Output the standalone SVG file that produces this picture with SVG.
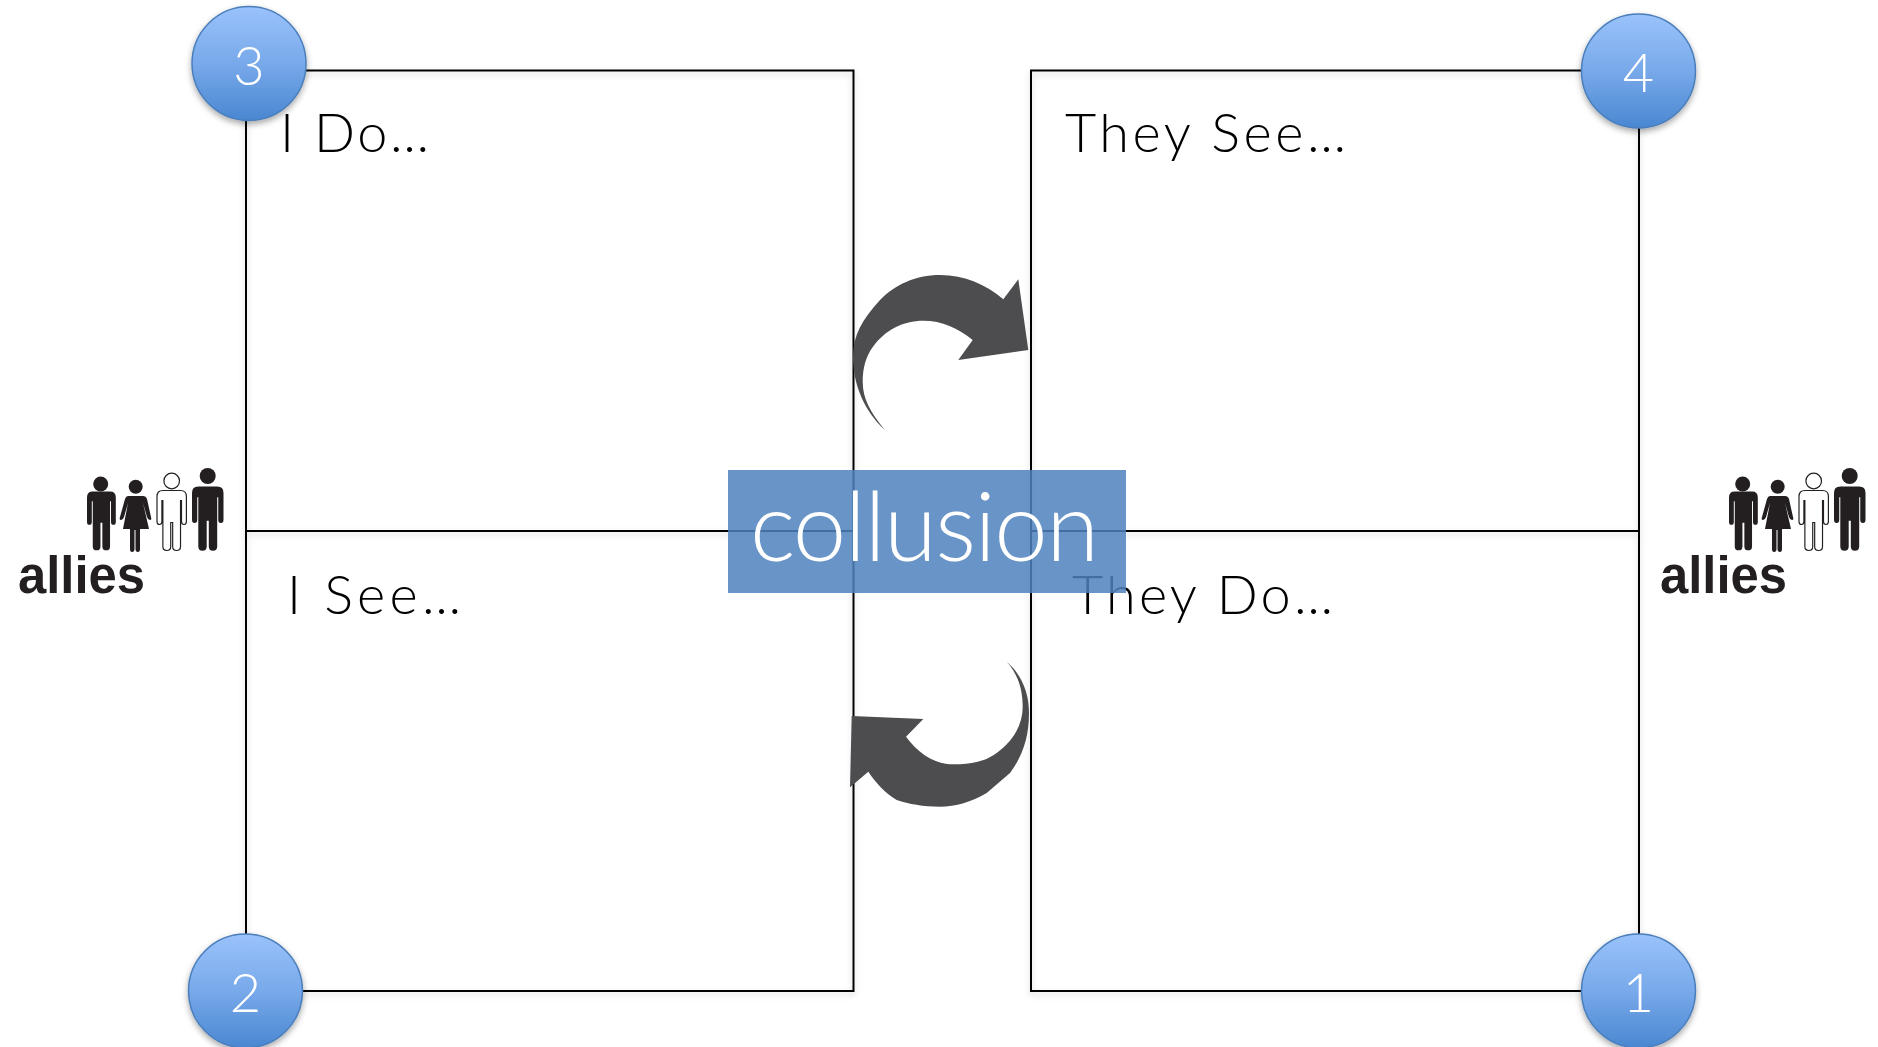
<svg xmlns="http://www.w3.org/2000/svg" xmlns:xlink="http://www.w3.org/1999/xlink" width="1878" height="1047" viewBox="0 0 1878 1047">
<style>
.q{fill:none;stroke:#000;stroke-width:2}
.h{font-family:"Lato","Open Sans",sans-serif;font-weight:300;font-size:54px;fill:#000}
.n{font-family:"Lato","Open Sans",sans-serif;font-weight:300;font-size:54px;fill:#fff;text-anchor:middle}
.c{fill:url(#blue);stroke:#4a7ebb;stroke-width:1.5;filter:url(#cs)}
.a{fill:#4d4d4f}
.al{font-family:"Liberation Sans",Arial,sans-serif;font-weight:700;font-size:51px;fill:#231f20}
.p{fill:#231f20}
.po{fill:#fff;stroke:#231f20;stroke-width:1.2}
</style>
<defs>
<linearGradient id="blue" x1="0" y1="0" x2="0" y2="1"><stop offset="0" stop-color="#9ac2fb"/><stop offset=".5" stop-color="#78a9ea"/><stop offset="1" stop-color="#4a87d1"/></linearGradient>
<filter id="ls" x="-5%" y="-5%" width="110%" height="110%"><feDropShadow dx="0" dy="3" stdDeviation="3" flood-color="#000" flood-opacity=".18"/></filter>
<filter id="cs" x="-20%" y="-20%" width="140%" height="140%"><feDropShadow dx="0" dy="3" stdDeviation="3" flood-color="#000" flood-opacity=".35"/></filter>
<path id="man" d="M6 0H24Q30 0 30 6V31Q30 34 27.5 34Q25 34 25 31V10H24V56Q24 60 20 60Q16 60 16 56V32H14V56Q14 60 10 60Q6 60 6 56V10H5V31Q5 34 2.5 34Q0 34 0 31V6Q0 0 6 0Z"/>
<g id="people">
<circle class="p" cx="100.7" cy="484" r="7.5"/>
<use href="#man" class="p" transform="translate(87 491.5) scale(.96 .98)"/>
<circle class="p" cx="135.7" cy="486.7" r="7"/>
<path class="p" d="M128 496H143Q146 496 147 499L151 517Q152 520 150 520Q148 520 147 517L143 503L149 529H140V549Q140 552 138 552Q135.500 552 135.500 549V530H134.500V549Q134.500 552 132 552Q130 552 130 549V529H123L128 503L124 517Q123 520 121 520Q119 520 120 517L125 499Q126 496 128 496Z"/>
<circle class="po" cx="171.700" cy="481" r="7.800"/>
<use href="#man" class="po" transform="translate(157 490.500) scale(.98 1)"/>
<circle class="p" cx="207.700" cy="476" r="8"/>
<use href="#man" class="p" transform="translate(192 486.500) scale(1.050 1.070)"/>
<text class="al" x="18" y="592.500" textLength="127" lengthAdjust="spacingAndGlyphs">allies</text>
</g>
</defs>
<rect width="1878" height="1047" fill="#fff"/>
<g id="quadrant-left" filter="url(#ls)"><path class="q" d="M246 70.500H853.500V991H246ZM246 531H853.500"/></g>
<g id="quadrant-right" filter="url(#ls)"><path class="q" d="M1031 70.500H1639V991H1031ZM1031 531H1639"/></g>
<g id="label-i-do"><text class="h" x="280" y="152" textLength="149">I Do…</text></g>
<g id="label-they-see"><text class="h" x="1065" y="152" textLength="281">They See…</text></g>
<g id="label-i-see"><text class="h" x="287" y="614" textLength="174">I See…</text></g>
<g id="label-they-do"><text class="h" x="1072" y="614" textLength="261">They Do…</text></g>
<g id="connectors">
<path class="a" d="M1028.300 350L1018.300 279.300L1003.300 299.300C985 284 965 275 940 275C915 275 895 285 880 300C862 320 853 335 853 356.700C853 385 865 412 885 430C870 412 862.700 398 862.700 381.700C862.700 368 866 356 873 346.700C885 330 903 320.700 923.300 320.700C942 320.700 958 328 972.700 340L958.300 360Z"/>
<path class="a" d="M850 787.300L851.700 716L923.300 719L906 736.700C918 753 934 764.300 953.300 764.300C973 764.300 986 761 996.700 753C1013 741 1022.700 725 1022.700 706.700C1022.700 688 1017 673 1006.700 661.700C1022 675 1029 693 1029 713C1029 738 1022 757 1010 773L986.700 793C971 802 956 806.700 940 806.700C923 806.700 909 804 896.700 800C885 793 876 783 868.300 771.700Z"/>
</g>
<g id="collusion">
<rect x="728" y="470" width="398" height="123" fill="#4f81bd" fill-opacity=".85"/>
<text x="750" y="561" textLength="349" font-family="Lato,'Open Sans',sans-serif" font-weight="300" font-size="96" fill="#fff">collusion</text>
</g>
<g id="badge-3"><circle class="c" cx="249" cy="63.500" r="57"/><text class="n" x="249" y="85">3</text></g>
<g id="badge-4"><circle class="c" cx="1638.500" cy="71" r="57"/><text class="n" x="1638.500" y="92">4</text></g>
<g id="badge-2"><circle class="c" cx="245.500" cy="991" r="57"/><text class="n" x="245.500" y="1012">2</text></g>
<g id="badge-1"><circle class="c" cx="1638.500" cy="991" r="57"/><text class="n" x="1638.500" y="1012">1</text></g>
<g id="allies-left"><use href="#people"/></g>
<g id="allies-right"><use href="#people" transform="translate(1642 0)"/></g>
</svg>
